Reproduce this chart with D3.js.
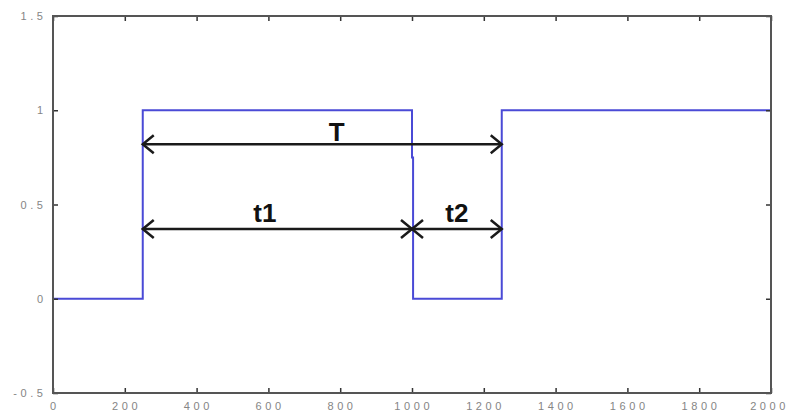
<!DOCTYPE html>
<html>
<head>
<meta charset="utf-8">
<script src="https://cdn.jsdelivr.net/npm/d3@7/dist/d3.min.js"></script>
<style>
  html, body { margin: 0; padding: 0; background: #fff; }
  svg { display: block; }
  .tick-label { font-family: "Liberation Sans", Arial, sans-serif; font-size: 11px; fill: #858585; letter-spacing: 3.6px; }
  .anno { font-family: "Liberation Sans", Arial, sans-serif; font-size: 26px; font-weight: bold; fill: #111; }
</style>
</head>
<body>
<svg id="chart" width="789" height="412"></svg>
<script>
// Square-wave signal vertices (time, level)
const signalTime  = [0, 250, 250, 1000, 1000, 1003, 1003, 1250, 1250, 2000];
const signalLevel = [0, 0,   1,   1,    0.75, 0.75, 0,    0,    1,    1];

// Axis ticks
const xTicks = [0, 200, 400, 600, 800, 1000, 1200, 1400, 1600, 1800, 2000];
const yTicks = [-0.5, 0, 0.5, 1, 1.5];
const yTickLabels = ["-0.5", "0", "0.5", "1", "1.5"];

// Dimension arrows: start, end, level, label, label position
const arrowStart = [250, 250, 1000];
const arrowEnd   = [1250, 1000, 1250];
const arrowLevel = [0.82, 0.37, 0.37];
const arrowLabel = ["T", "t1", "t2"];
const labelX     = [790, 590, 1125];

const svg = d3.select("#chart");
const plotLeft = 53, plotRight = 771, plotTop = 16, plotBottom = 393;

const x = d3.scaleLinear().domain([0, 2000]).range([plotLeft, plotRight]);
const y = d3.scaleLinear().domain([-0.5, 1.5]).range([plotBottom, plotTop]);

const frameColor = "#555";
const tickLen = 5;

// Signal
const pts = signalTime.map((t, i) => [t, signalLevel[i]]);
svg.append("path")
  .attr("d", d3.line().x(d => x(d[0])).y(d => y(d[1]))(pts))
  .attr("fill", "none")
  .attr("stroke", "#4a4ad6")
  .attr("stroke-width", 2);

// Inward ticks on all four sides
const bottomAxis = d3.axisBottom(x).tickValues(xTicks).tickSize(-tickLen).tickFormat("");
const topAxis = d3.axisTop(x).tickValues(xTicks).tickSize(-tickLen).tickFormat("");
const leftAxis = d3.axisLeft(y).tickValues(yTicks).tickSize(-tickLen).tickFormat("");
const rightAxis = d3.axisRight(y).tickValues(yTicks).tickSize(-tickLen).tickFormat("");

[[bottomAxis, `translate(0,${plotBottom})`], [topAxis, `translate(0,${plotTop})`],
 [leftAxis, `translate(${plotLeft},0)`], [rightAxis, `translate(${plotRight},0)`]].forEach(([ax, tr]) => {
  const g = svg.append("g").attr("transform", tr).call(ax);
  g.select(".domain").remove();
  g.selectAll(".tick line").attr("stroke", "#333").attr("stroke-width", 1.5);
});

// Frame
svg.append("rect")
  .attr("x", plotLeft).attr("y", plotTop)
  .attr("width", plotRight - plotLeft).attr("height", plotBottom - plotTop)
  .attr("fill", "none")
  .attr("stroke", frameColor)
  .attr("stroke-width", 2);

// Tick labels (the last one is kept inside the canvas edge)
const ls = 3.6;
svg.append("g").selectAll("text")
  .data(xTicks).join("text")
  .attr("class", "tick-label")
  .attr("x", (d, i) => i === xTicks.length - 1 ? 789 : x(d) + ls / 2)
  .attr("y", 410)
  .attr("text-anchor", (d, i) => i === xTicks.length - 1 ? "end" : "middle")
  .text(d => d);

svg.append("g").selectAll("text")
  .data(yTicks).join("text")
  .attr("class", "tick-label")
  .attr("x", 43 + ls)
  .attr("y", d => y(d) + 4)
  .attr("text-anchor", "end")
  .text((d, i) => yTickLabels[i]);

// Dimension arrows
const arrowColor = "#1a1a1a";
const headLen = 11, headHalf = 9;
const ag = svg.append("g");
arrowStart.forEach((s, i) => {
  const x0 = x(s), x1 = x(arrowEnd[i]), yy = y(arrowLevel[i]);
  ag.append("line")
    .attr("x1", x0).attr("x2", x1).attr("y1", yy).attr("y2", yy)
    .attr("stroke", arrowColor).attr("stroke-width", 2.5);
  ag.append("path")
    .attr("d", `M${x0 + headLen},${yy - headHalf}L${x0},${yy}L${x0 + headLen},${yy + headHalf}`)
    .attr("fill", "none").attr("stroke", arrowColor).attr("stroke-width", 2.5);
  ag.append("path")
    .attr("d", `M${x1 - headLen},${yy - headHalf}L${x1},${yy}L${x1 - headLen},${yy + headHalf}`)
    .attr("fill", "none").attr("stroke", arrowColor).attr("stroke-width", 2.5);
  ag.append("text")
    .attr("class", "anno")
    .attr("x", x(labelX[i]))
    .attr("y", yy - (i === 0 ? 3 : 7))
    .attr("text-anchor", "middle")
    .text(arrowLabel[i]);
});
</script>
</body>
</html>
